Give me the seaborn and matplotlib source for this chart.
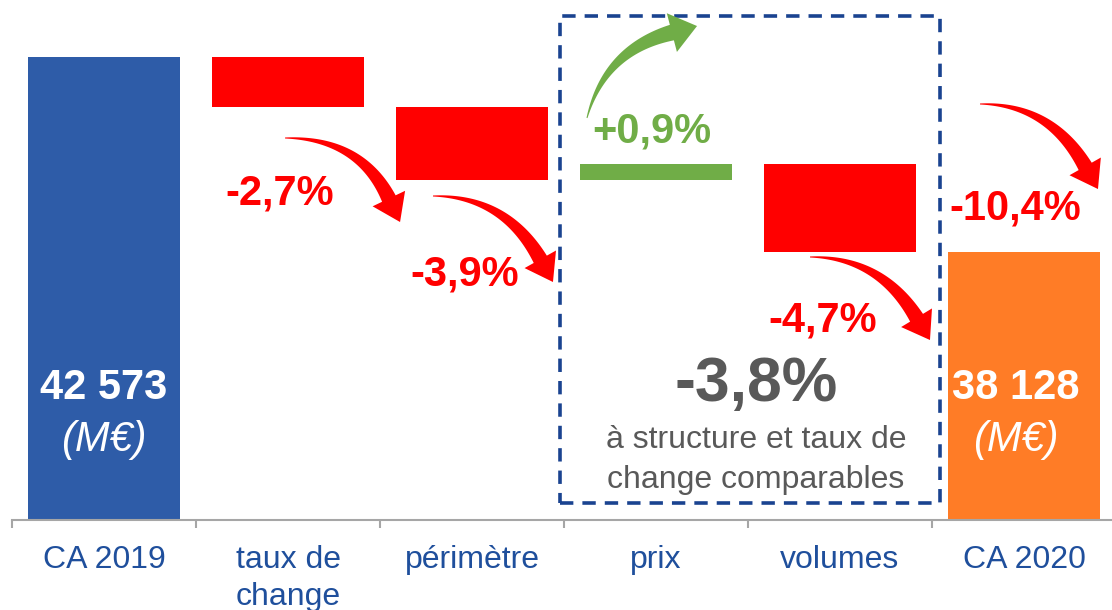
import numpy as np
import pandas as pd
import seaborn as sns
import matplotlib.pyplot as plt
from matplotlib.patches import Polygon, Rectangle

# data (M€)
categories = ["CA 2019", "taux de\nchange", "périmètre", "prix", "volumes", "CA 2020"]
ca_2019 = 42573
ca_2020 = 38128
deltas = [-1150, -1660, 380, -2015]
pct_labels = ["-2,7%", "-3,9%", "+0,9%", "-4,7%"]
total_label = "-10,4%"
organic_label = "-3,8%"
organic_text = "à structure et taux de\nchange comparables"

BLUE = "#2E5CA8"
ORANGE = "#FF7C26"
RED = "#FF0000"
GREEN = "#70AD47"
GREY = "#595959"
NAVY = "#1A4390"
LABEL = "#1F4F9C"

# waterfall levels
levels = np.concatenate([[ca_2019], ca_2019 + np.cumsum(deltas)])
bottoms = [0] + [min(levels[i], levels[i + 1]) for i in range(len(deltas))] + [0]
heights = [ca_2019] + [abs(d) for d in deltas] + [ca_2020]
colors = [BLUE] + [GREEN if d > 0 else RED for d in deltas] + [ORANGE]

df = pd.DataFrame({"cat": categories, "height": heights})

sns.set_theme(style="white")
plt.rcParams["font.family"] = ["Liberation Sans", "DejaVu Sans"]

fig = plt.figure(figsize=(11.12, 6.10), dpi=100)
ax = fig.add_axes([12 / 1112, 90 / 610, 1104 / 1112, 520 / 610])

sns.barplot(data=df, x="cat", y="height", bottom=bottoms, width=0.83,
            errorbar=None, color=BLUE, ax=ax, order=categories)
for p, c in zip(ax.patches, colors):
    p.set_facecolor(c)
    p.set_edgecolor("none")

ax.set_xlim(-0.5, 5.5)
ax.set_ylim(32019, 43870)

# axes styling
for s in ["left", "right", "top"]:
    ax.spines[s].set_visible(False)
ax.spines["bottom"].set_color("#A6A6A6")
ax.spines["bottom"].set_linewidth(1.5)
ax.set_yticks([])
ax.set_xlabel("")
ax.set_ylabel("")
ax.set_xticks(range(len(categories)))
ax.set_xticklabels(categories, fontsize=23, color=LABEL, linespacing=1.3)
ax.set_xticks(np.arange(-0.5, len(categories), 1), minor=True)
ax.tick_params(axis="x", which="major", length=0, pad=18)
ax.tick_params(axis="x", which="minor", length=6, width=1.5, color="#A6A6A6",
               direction="out", bottom=True)

# values inside total bars
for i, v, dx in [(0, ca_2019, 0.0), (5, ca_2020, -0.045)]:
    ax.text(i + dx, 35027, f"{v:,}".replace(",", " "), ha="center", va="center",
            fontsize=30, fontweight="bold", color="white")
    ax.text(i + dx, 33842, "(M€)", ha="center", va="center", fontsize=30,
            fontstyle="italic", color="white")

# percentage labels
pct_pos = [(0.957, 39471), (1.962, 37603), (2.978, 40862), (3.908, 36577)]
for (x, y), lab, d in zip(pct_pos, pct_labels, deltas):
    ax.text(x, y, lab, ha="center", va="center", fontsize=30, fontweight="bold",
            color=GREEN if d > 0 else RED)
ax.text(4.951, 39129, total_label, ha="center", va="center", fontsize=30,
        fontweight="bold", color=RED)

# dashed box: organic change
ax.add_patch(Rectangle((2.478, 32406), 4.543 - 2.478, 43505 - 32406, fill=False,
                       edgecolor=NAVY, linewidth=2.6, linestyle=(0, (3.7, 2.5)),
                       clip_on=False))
ax.text(3.543, 35096, organic_label, ha="center", va="center", fontsize=45,
        fontweight="bold", color=GREY)
ax.text(3.543, 33390, organic_text, ha="center", va="center", fontsize=23,
        color=GREY, linespacing=1.45)


def curved_arrow(p0, p1, p2, color, w0=1.0, w1=15, head_w=36, head_l=26):
    T = ax.transData
    P0, P1, P2 = T.transform(np.array([p0, p1, p2]))
    d = (P2 - P1) / np.linalg.norm(P2 - P1)
    B = P2 - head_l * d
    t = np.linspace(0, 1, 80)[:, None]
    pts = (1 - t) ** 2 * P0 + 2 * (1 - t) * t * P1 + t ** 2 * B
    der = 2 * (1 - t) * (P1 - P0) + 2 * t * (B - P1)
    nrm = np.column_stack([-der[:, 1], der[:, 0]])
    nrm /= np.linalg.norm(nrm, axis=1)[:, None]
    w = w0 + (w1 - w0) * t
    left = pts + nrm * w / 2
    right = pts - nrm * w / 2
    nb = nrm[-1]
    head = np.array([B + nb * head_w / 2, P2, B - nb * head_w / 2])
    poly = np.vstack([left, head, right[::-1]])
    ax.add_patch(Polygon(T.inverted().transform(poly), closed=True,
                         facecolor=color, edgecolor="none", clip_on=False))


red_arrows = [((0.984, 40725), (1.391, 40725), (1.609, 38810)),
              ((1.788, 39403), (2.179, 39403), (2.440, 37443)),
              ((3.837, 38013), (4.217, 38013), (4.489, 36121)),
              ((4.761, 41500), (5.141, 41500), (5.402, 39562))]
for a in red_arrows:
    curved_arrow(*a, color=RED)
curved_arrow((2.625, 41181), (2.723, 42730), (3.223, 43277), color=GREEN,
             w1=16, head_w=40, head_l=26)

fig.savefig("out.png", dpi=100)
